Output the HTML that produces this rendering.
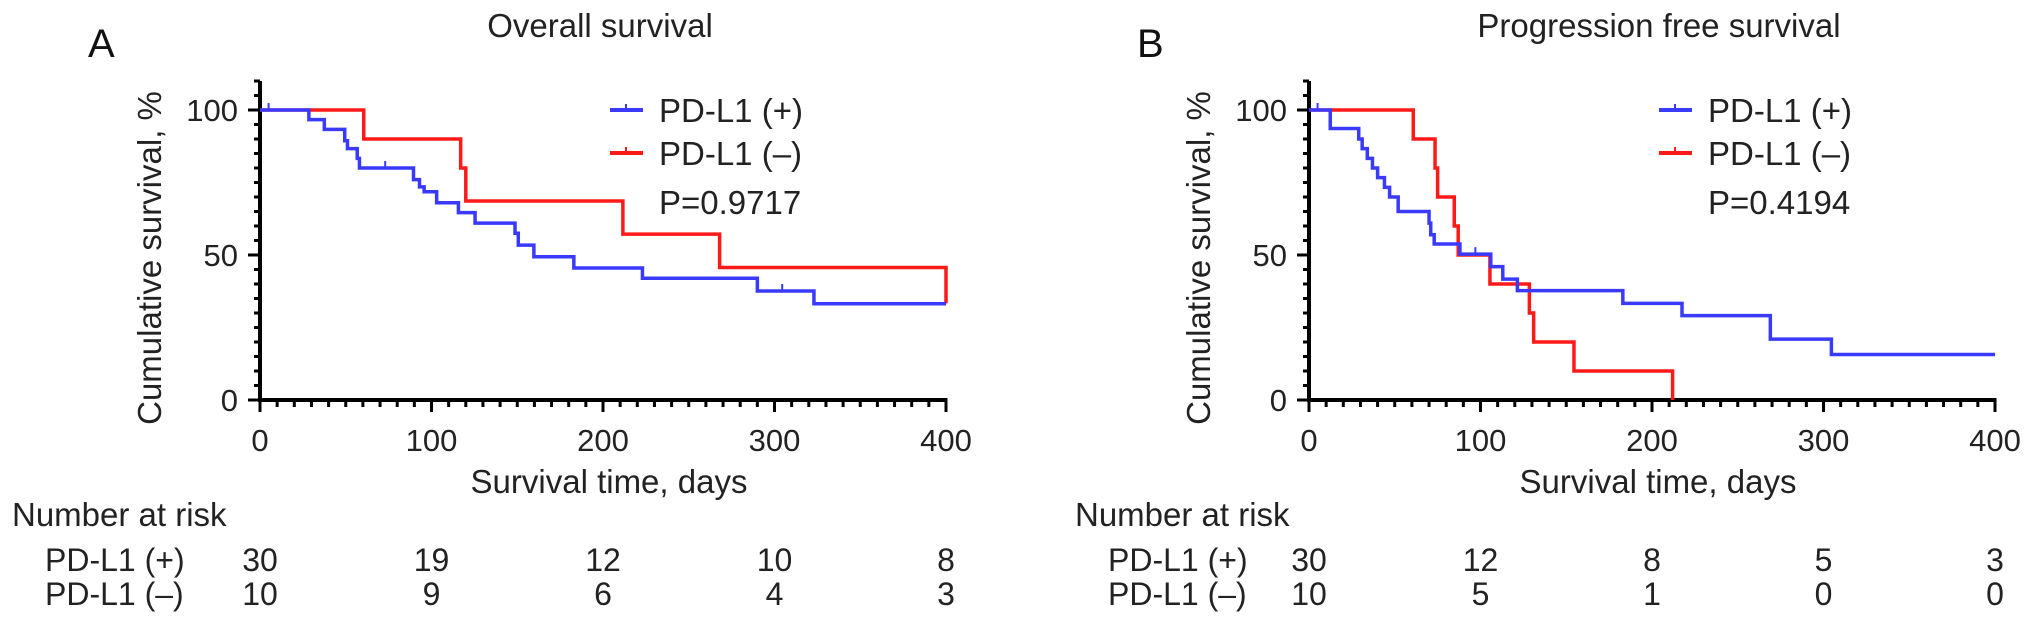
<!DOCTYPE html>
<html><head><meta charset="utf-8"><style>
html,body{margin:0;padding:0;background:#fff;}
svg{display:block;font-family:"Liberation Sans",Arial,sans-serif;}
</style></head><body>
<svg id="chart" width="2032" height="630" viewBox="0 0 2032 630"></svg>
<script>
// Panel A: overall survival
const osPosTimes = [0, 28.5, 37.5, 49.4, 51, 56.7, 58, 89.5, 93, 95.7, 103, 115.7, 125.4, 148.7, 150.6, 159.7, 183, 223, 290, 323, 400];
const osPosVals  = [100, 96.7, 93.3, 89.4, 86.7, 83.3, 80, 76, 73.5, 71.8, 68, 64.6, 61, 57.5, 53.4, 49.4, 45.5, 42, 37.6, 33.2, 33.2];
const osPosCens  = [5, 73, 304.5];
const osNegTimes = [0, 60.5, 117, 120, 211.6, 268, 400, 400];
const osNegVals  = [100, 90, 80, 68.6, 57.2, 45.7, 45.7, 33.3];
const osNegCens  = [117];
// Panel B: progression free survival
const pfsPosTimes = [0, 12.4, 29, 31, 34, 37, 40, 44, 47, 52, 70, 71, 73, 88, 106, 113, 121.5, 183, 217.5, 269, 304.6, 400];
const pfsPosVals  = [100, 93.6, 90, 86.7, 83.3, 80, 76.7, 73.3, 70, 65, 61, 57, 53.8, 50.3, 46, 41.7, 37.7, 33.3, 29.1, 21, 15.7, 15.7];
const pfsPosCens  = [5, 97, 304.6];
const pfsNegTimes = [0, 60.8, 73.5, 75, 84.7, 87, 105.5, 128.5, 131, 154.5, 212];
const pfsNegVals  = [100, 90, 80, 70, 60, 50, 40, 30, 20, 10, 0];
const pfsNegCens  = [];
const xTicks = [0, 100, 200, 300, 400];
const yTicks = [0, 50, 100];
const osRiskPos = [30, 19, 12, 10, 8];
const osRiskNeg = [10, 9, 6, 4, 3];
const pfsRiskPos = [30, 12, 8, 5, 3];
const pfsRiskNeg = [10, 5, 1, 0, 0];

const NS = 'http://www.w3.org/2000/svg';
const svg = document.getElementById('chart');
function mk(tag, attrs, parent, text) {
  const e = document.createElementNS(NS, tag);
  for (const k in attrs) e.setAttribute(k, attrs[k]);
  if (text !== undefined) e.textContent = text;
  (parent || svg).appendChild(e);
  return e;
}

function panel(cfg) {
  const x0 = cfg.x0, W = 686, yB = 400, yT = 110;
  const sx = d => x0 + d / 400 * W;
  const sy = v => yB - v / 100 * (yB - yT);
  const g = mk('g', {});
  
  

  const letter = mk('text', {x: cfg.x0 - 172, y: 57, 'font-size': 40, fill: '#111'}, g, cfg.letter);
  
  
  const title = mk('text', {x: cfg.titleX, y: 37, 'font-size': 33, fill: '#222', 'text-anchor': 'middle'}, g, cfg.title);
  
  

  // y axis
  const yAx = mk('g', {stroke: '#000', 'stroke-width': 3}, g);
  
  
  mk('line', {x1: x0, y1: sy(110), x2: x0, y2: yB + 1.5, 'stroke-width': 4}, yAx);
  for (let v = 0; v <= 110; v += 5) {
    const major = yTicks.indexOf(v) >= 0;
    mk('line', {x1: x0 - (major ? 12 : 6), y1: sy(v), x2: x0, y2: sy(v)}, yAx);
  }
  yTicks.forEach(v => {
    const t = mk('text', {x: x0 - 22, y: sy(v) + 11, 'font-size': 31, fill: '#222', 'text-anchor': 'end'}, g, String(v));
    
    
  });
  // x axis
  const xAx = mk('g', {stroke: '#000', 'stroke-width': 3}, g);
  
  
  mk('line', {x1: x0 - 2, y1: yB, x2: sx(400) + 1.5, y2: yB, 'stroke-width': 4}, xAx);
  for (let d = 0; d <= 400; d += 10) {
    const major = xTicks.indexOf(d) >= 0;
    mk('line', {x1: sx(d), y1: yB, x2: sx(d), y2: yB + (major ? 12 : 7)}, xAx);
  }
  xTicks.forEach(d => {
    const t = mk('text', {x: sx(d), y: 451, 'font-size': 31, fill: '#222', 'text-anchor': 'middle'}, g, String(d));
    
    
  });
  const xt = mk('text', {x: x0 + 349, y: 493, 'font-size': 33, fill: '#222', 'text-anchor': 'middle'}, g, 'Survival time, days');
  
  
  const yt = mk('text', {x: 0, y: 0, 'font-size': 33, fill: '#222', 'text-anchor': 'middle', transform: `translate(${x0 - 99},258) rotate(-90)`}, g, 'Cumulative survival, %');
  
  

  // curves
  function curve(times, vals, cens, color, nm) {
    let d = `M${sx(times[0])},${sy(vals[0])}`;
    for (let i = 1; i < times.length; i++) {
      d += ` H${sx(times[i])} V${sy(vals[i])}`;
    }
    const p = mk('path', {d: d, fill: 'none', stroke: color, 'stroke-width': 3.5}, g);
    
    
    cens.forEach(c => {
      let v = vals[0];
      for (let i = 0; i < times.length; i++) if (times[i] <= c) v = vals[i];
      const m = mk('line', {x1: sx(c), y1: sy(v), x2: sx(c), y2: sy(v) - 7, stroke: color, 'stroke-width': 2}, g);
      
      
    });
  }
  curve(cfg.negT, cfg.negV, cfg.negC, '#ff1a1a', 'pd-l1-negative');
  curve(cfg.posT, cfg.posV, cfg.posC, '#3a3aff', 'pd-l1-positive');

  // legend
  const lx = x0 + 350;
  [['#3a3aff', 'PD-L1 (+)', 110, 'legend-entry-positive'], ['#ff1a1a', 'PD-L1 (\u2013)', 153, 'legend-entry-negative']].forEach(l => {
    const lg = mk('g', {}, g);
    
    
    mk('line', {x1: lx, y1: l[2], x2: lx + 33, y2: l[2], stroke: l[0], 'stroke-width': 4}, lg);
    mk('line', {x1: lx + 16, y1: l[2], x2: lx + 16, y2: l[2] - 6, stroke: l[0], 'stroke-width': 2}, lg);
    mk('text', {x: lx + 49, y: l[2] + 12, 'font-size': 33, fill: '#222'}, lg, l[1]);
  });
  const pv = mk('text', {x: lx + 49, y: 214, 'font-size': 33, fill: '#222'}, g, cfg.p);
  
  

  // risk table
  const tb = mk('g', {fill: '#222', 'font-size': 32}, g);
  
  
  mk('text', {x: cfg.tx, y: 526, 'font-size': 33}, tb, 'Number at risk');
  mk('text', {x: cfg.tx + 33, y: 571}, tb, 'PD-L1 (+)');
  mk('text', {x: cfg.tx + 33, y: 605}, tb, 'PD-L1 (\u2013)');
  xTicks.forEach((d, i) => {
    mk('text', {x: sx(d), y: 571, 'text-anchor': 'middle'}, tb, String(cfg.rp[i]));
    mk('text', {x: sx(d), y: 605, 'text-anchor': 'middle'}, tb, String(cfg.rn[i]));
  });
}

panel({name: 'overall-survival', letter: 'A', title: 'Overall survival', titleX: 600, x0: 260,
  posT: osPosTimes, posV: osPosVals, posC: osPosCens, negT: osNegTimes, negV: osNegVals, negC: osNegCens,
  p: 'P=0.9717', tx: 12, rp: osRiskPos, rn: osRiskNeg});
panel({name: 'progression-free-survival', letter: 'B', title: 'Progression free survival', titleX: 1659, x0: 1309,
  posT: pfsPosTimes, posV: pfsPosVals, posC: pfsPosCens, negT: pfsNegTimes, negV: pfsNegVals, negC: pfsNegCens,
  p: 'P=0.4194', tx: 1075, rp: pfsRiskPos, rn: pfsRiskNeg});
</script>
</body></html>
